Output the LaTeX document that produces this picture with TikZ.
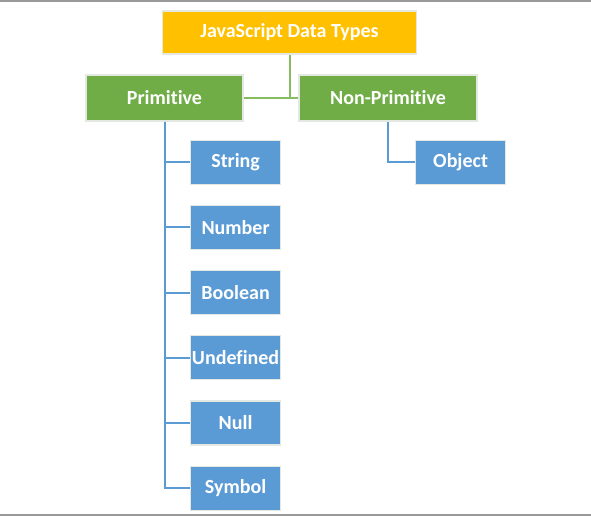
\documentclass[tikz,border=0pt]{standalone}
\usepackage{fontspec}
\setmainfont[Ligatures=NoCommon]{Carlito}
\usetikzlibrary{positioning}
\definecolor{jsorange}{HTML}{FFC000}
\definecolor{jsgreen}{HTML}{70AD47}
\definecolor{jsblue}{HTML}{5B9BD5}
\definecolor{linegreen}{HTML}{86BC62}
\definecolor{edgegray}{HTML}{E3E8E0}
\begin{document}
\begin{tikzpicture}[x=1pt, y=1pt,
                    box/.style = {draw=edgegray, line width=1.2pt, text=white, inner sep=0pt,
                                  font=\fontsize{20}{24}\selectfont\bfseries},
                    root/.style = {box, fill=jsorange, minimum width=254pt, minimum height=43pt},
                    kind/.style = {box, fill=jsgreen, minimum height=46pt},
                    leaf/.style = {box, fill=jsblue, minimum width=90pt, minimum height=44pt},
                    greenlink/.style = {draw=linegreen, line width=2pt},
                    bluelink/.style = {draw=jsblue, line width=2pt},
                    node distance=20pt]
                    \useasboundingbox (0,0) rectangle (591,-516);
                    \draw[gray!80, line width=2pt] (0,-1) -- (591,-1);
                    \draw[gray!80, line width=2pt] (0,-515) -- (591,-515);

                    \node[root] (types) at (289.5,-32.5) {JavaScript Data Types};
                    \node[kind, minimum width=157pt] (prim) at (164.5,-98) {Primitive};
                    \node[kind, minimum width=178pt] (nonprim) at (388,-98) {Non-Primitive};

                    \node[leaf] (string) [below right=18pt and 25.5pt of prim.south] {String};
                    \node[leaf] (number) [below=of string] {Number};
                    \node[leaf] (boolean) [below=of number] {Boolean};
                    \node[leaf] (undefined) [below=of boolean] {Undefined};
                    \node[leaf] (null) [below=of undefined] {Null};
                    \node[leaf] (symbol) [below=of null] {Symbol};
                    \node[leaf] (object) [below right=18pt and 27pt of nonprim.south] {Object};

                    \draw[greenlink] (types.south) -- (types.south |- prim.east);
                    \draw[greenlink] (prim.east) -- (nonprim.west);
                    \foreach \t in {string,number,boolean,undefined,null,symbol}
                        \draw[bluelink] (prim.south) |- (\t.west);
                    \draw[bluelink] (nonprim.south) |- (object.west);
                \end{tikzpicture}
\end{document}
